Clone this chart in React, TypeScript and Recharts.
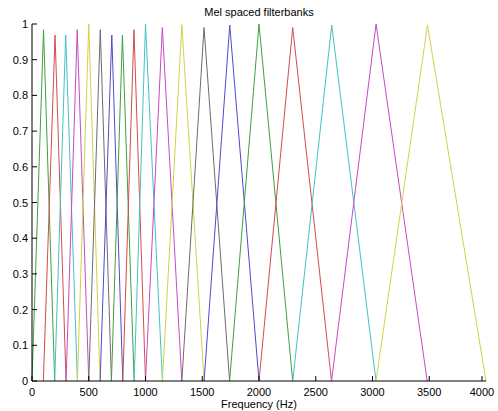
import { LineChart, Line, XAxis, YAxis } from 'recharts';

// filter edges / peak positions (Hz) and peak heights
const filterStart = [0, 100, 200, 300, 400, 500, 600, 700, 800, 900, 1000, 1149, 1320, 1516, 1741, 2000, 2297, 2639, 3031];
const filterPeak = [101.6, 203.1, 296.9, 398.4, 500, 601.6, 703.1, 796.9, 898.4, 1000, 1148.4, 1320.3, 1515.6, 1742.2, 2000, 2296.9, 2640.6, 3031.3, 3484.4];
const filterEnd = [200, 300, 400, 500, 600, 700, 800, 900, 1000, 1149, 1320, 1516, 1741, 2000, 2297, 2639, 3031, 3482, 4000];
const filterLevel = [0.984, 0.969, 0.969, 0.984, 1, 0.984, 0.969, 0.969, 0.984, 1, 0.99, 0.998, 0.99, 0.997, 1, 0.99, 0.997, 1, 0.997];

const xTicks = [0, 500, 1000, 1500, 2000, 2500, 3000, 3500, 4000];
const yTicks = [0, 0.1, 0.2, 0.3, 0.4, 0.5, 0.6, 0.7, 0.8, 0.9, 1];

// matlab's old line colour order (washed out like the jpeg), first filter is green
const colors = ['#3f9f3f', '#d44c4c', '#44c2c2', '#c44cc4', '#d2d244', '#6c6c6c', '#4c4cc8'];

const filters = filterStart.map((s, i) => [
  { f: s, v: 0 },
  { f: filterPeak[i], v: filterLevel[i] },
  { f: filterEnd[i], v: 0 },
]);

const font = 'Liberation Sans, Arial, sans-serif';
const TICK = 5;

const BottomTick = (props: any) => {
  const { x, y, payload } = props;
  return (
    <g>
      <line x1={x} x2={x} y1={y} y2={y - TICK} stroke="#000" />
      <text x={x} y={y + 15} textAnchor="middle" fontSize={11} fontFamily={font} fill="#000">
        {payload.value}
      </text>
    </g>
  );
};

const TopTick = (props: any) => {
  const { x, y } = props;
  return <line x1={x} x2={x} y1={y} y2={y + TICK} stroke="#000" />;
};

const LeftTick = (props: any) => {
  const { x, y, payload } = props;
  return (
    <g>
      <line x1={x} x2={x + TICK} y1={y} y2={y} stroke="#000" />
      <text x={x - 4} y={y + 4} textAnchor="end" fontSize={11} fontFamily={font} fill="#000">
        {payload.value}
      </text>
    </g>
  );
};

const RightTick = (props: any) => {
  const { x, y } = props;
  return <line x1={x} x2={x - TICK} y1={y} y2={y} stroke="#000" />;
};

export default function App() {
  return (
    <div style={{ position: 'absolute', left: 0, top: 0, width: 498, height: 411, background: '#fff' }}>
      <LineChart width={498} height={411} margin={{ top: 24, right: 12, left: 0, bottom: 0 }}>
        <text x={259} y={16} textAnchor="middle" fontSize={11} fontFamily={font} fill="#000">
          Mel spaced filterbanks
        </text>
        <text x={259} y={408} textAnchor="middle" fontSize={11} fontFamily={font} fill="#000">
          Frequency (Hz)
        </text>
        <XAxis
          xAxisId="b"
          dataKey="f"
          type="number"
          domain={[0, 4000]}
          ticks={xTicks}
          height={30}
          tickSize={0}
          tickMargin={0}
          tick={<BottomTick />}
          tickLine={false}
          stroke="#000"
          allowDuplicatedCategory={false}
        />
        <XAxis
          xAxisId="t"
          orientation="top"
          dataKey="f"
          type="number"
          domain={[0, 4000]}
          ticks={xTicks}
          height={0}
          tickSize={0}
          tickMargin={0}
          tick={<TopTick />}
          tickLine={false}
          stroke="#000"
        />
        <YAxis
          yAxisId="l"
          type="number"
          domain={[0, 1]}
          ticks={yTicks}
          width={32}
          tickSize={0}
          tickMargin={0}
          tick={<LeftTick />}
          tickLine={false}
          stroke="#000"
        />
        <YAxis
          yAxisId="r"
          orientation="right"
          type="number"
          domain={[0, 1]}
          ticks={yTicks}
          width={0}
          tickSize={0}
          tickMargin={0}
          tick={<RightTick />}
          tickLine={false}
          stroke="#000"
        />
        {filters.map((d, i) => (
          <Line
            key={i}
            xAxisId="b"
            yAxisId="l"
            data={d}
            dataKey="v"
            stroke={colors[i % colors.length]}
            strokeWidth={1}
            dot={false}
            activeDot={false}
            isAnimationActive={false}
          />
        ))}
      </LineChart>
    </div>
  );
}
